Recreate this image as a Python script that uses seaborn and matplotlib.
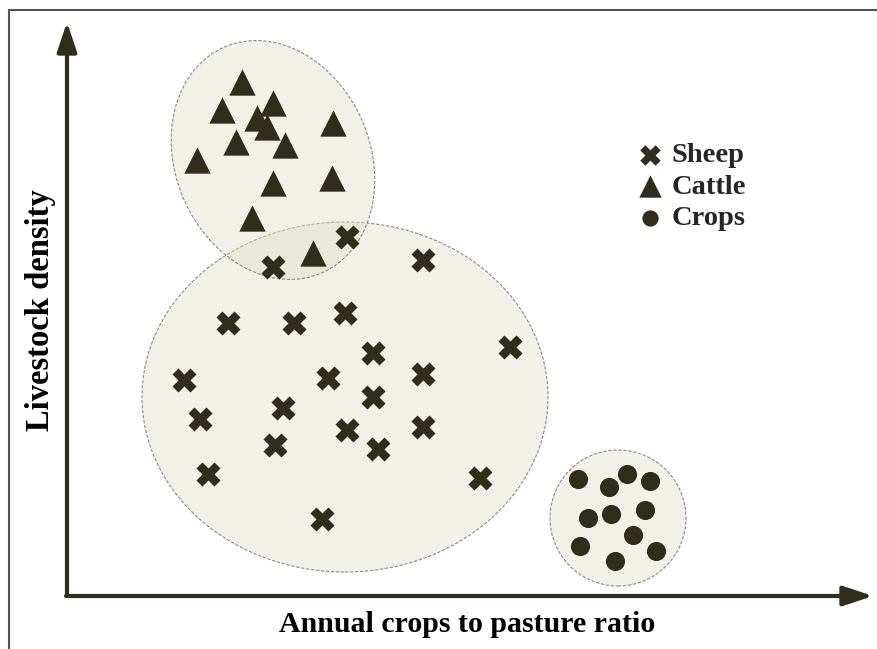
import numpy as np
import pandas as pd
import seaborn as sns
import matplotlib
matplotlib.use('Agg')
import matplotlib.pyplot as plt
from matplotlib.patches import Ellipse
from matplotlib.lines import Line2D

# Values (arbitrary units, origin at the axis corner)
sheep_ratio = [280, 206, 356, 161, 227, 278, 443, 306, 117, 261, 356,
               306, 133, 216, 356, 280, 208, 311, 141, 413, 255]
sheep_density = [359, 329, 336, 273, 273, 283, 249, 243, 216, 218, 222,
                 199, 177, 188, 169, 166, 151, 147, 122, 118, 77]

cattle_ratio = [175, 155, 206, 190, 200, 266, 169, 218, 130, 206, 265, 185, 246]
cattle_density = [514, 486, 493, 478, 469, 473, 454, 451, 436, 413, 418, 378, 343]

crops_ratio = [511, 542, 560, 583, 521, 544, 578, 566, 513, 548, 589]
crops_density = [117, 109, 122, 115, 78, 82, 86, 61, 50, 35, 45]

# Cluster outlines: centre x, centre y, width, height, angle
group_names = ['Sheep', 'Cattle', 'Crops']
cluster_x = [278, 206, 551]
cluster_y = [199, 436, 78]
cluster_w = [406, 195, 136]
cluster_h = [350, 246, 136]
cluster_angle = [0, 23, 0]

X_AXIS_END = 806
Y_AXIS_END = 574

DARK = '#302d1c'
FILL = (0.87, 0.87, 0.78, 0.42)


def _main():
    sns.set_style('white')
    plt.rcParams['font.family'] = ['Liberation Serif', 'DejaVu Serif']

    fig = plt.figure(figsize=(8.78, 6.49), dpi=100)
    ax = fig.add_axes([0, 0, 1, 1])
    ax.set_xlim(-67, 811)
    ax.set_ylim(-53, 596)
    ax.axis('off')

    # Shaded clusters
    for cx, cy, w, h, ang in zip(cluster_x, cluster_y, cluster_w, cluster_h, cluster_angle):
        ax.add_patch(Ellipse((cx, cy), w, h, angle=ang, facecolor=FILL,
                             edgecolor='#8a8a8a', linewidth=0.8,
                             linestyle=(0, (3, 1.5)), zorder=1))

    sheep = pd.DataFrame({'ratio': sheep_ratio, 'density': sheep_density})
    cattle = pd.DataFrame({'ratio': cattle_ratio, 'density': cattle_density})
    crops = pd.DataFrame({'ratio': crops_ratio, 'density': crops_density})

    sns.scatterplot(data=sheep, x='ratio', y='density', marker='X', s=300,
                    color=DARK, linewidth=0, label='Sheep', ax=ax, zorder=3)
    sns.scatterplot(data=cattle, x='ratio', y='density', marker='^', s=360,
                    color=DARK, linewidth=0, label='Cattle', ax=ax, zorder=3)
    sns.scatterplot(data=crops, x='ratio', y='density', marker='o', s=190,
                    color=DARK, linewidth=0, label='Crops', ax=ax, zorder=3)

    # Axis arrows
    arrow = dict(arrowstyle='-|>,head_length=0.9,head_width=0.3',
                 color=DARK, lw=3, shrinkA=0, shrinkB=0, mutation_scale=20)
    ax.annotate('', xy=(X_AXIS_END, 0), xytext=(-1, 0), arrowprops=arrow, zorder=4)
    ax.annotate('', xy=(0, Y_AXIS_END), xytext=(0, 1), arrowprops=arrow, zorder=4)

    ax.text(400, -29, 'Annual crops to pasture ratio', ha='center', va='center',
            fontsize=21.5, fontweight='bold', color='black')
    ax.text(-26, 286, 'Livestock density', ha='center', va='center',
            rotation=90, fontsize=23.5, fontweight='bold', color='black')

    ax.legend(loc='upper left', bbox_to_anchor=(622 / 878, 1 - 128 / 649),
              frameon=False, prop={'weight': 'bold', 'size': 20.5},
              handletextpad=0.25, labelspacing=0.2, borderpad=0,
              handlelength=1.0, markerscale=0.85)

    # Frame lines at top and left of the picture
    fig.add_artist(Line2D([9.5 / 878, 1], [1 - 9.5 / 649] * 2,
                          transform=fig.transFigure, color='#555555', lw=1.5))
    fig.add_artist(Line2D([9.5 / 878] * 2, [0, 1 - 9.5 / 649],
                          transform=fig.transFigure, color='#555555', lw=1.5))

    fig.savefig('out.png', dpi=100)
    plt.close(fig)


if __name__ == '__main__':
    _main()
